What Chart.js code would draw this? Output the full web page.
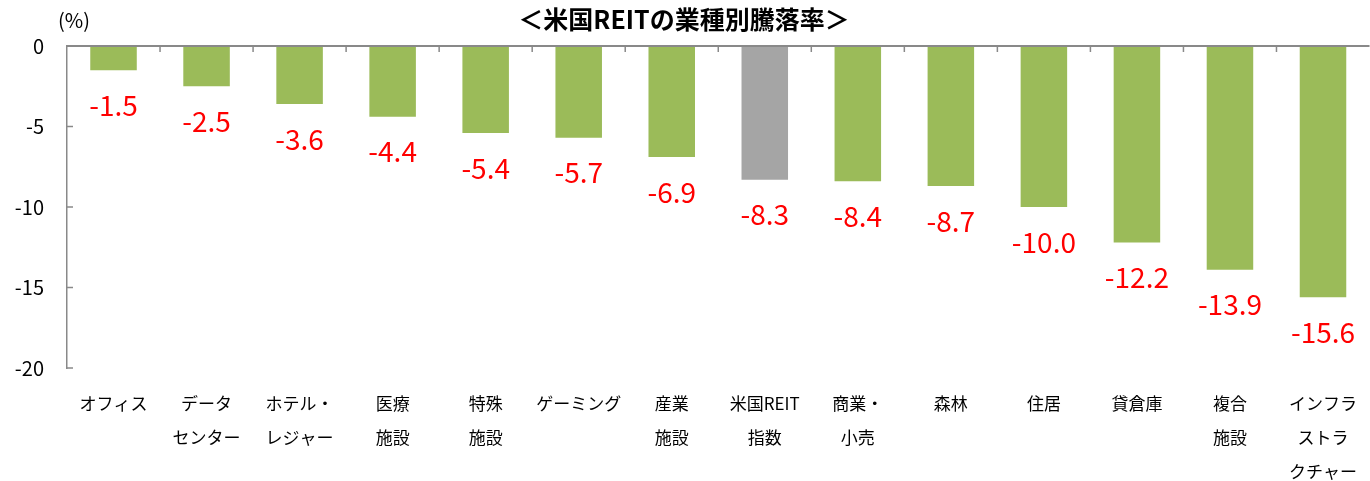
<!DOCTYPE html>
<html>
<head>
<meta charset="utf-8">
<script src="https://cdn.jsdelivr.net/npm/chart.js@4.4.1/dist/chart.umd.min.js"></script>
<style>
  html, body { margin: 0; padding: 0; background: #fff; overflow: hidden; }
  #chart { display: block; }
</style>
</head>
<body>
<canvas id="chart" width="1376" height="481"></canvas>
<script>
// Data
const categories = [
  ['オフィス'], ['データ', 'センター'], ['ホテル・', 'レジャー'], ['医療', '施設'],
  ['特殊', '施設'], ['ゲーミング'], ['産業', '施設'], ['米国REIT', '指数'],
  ['商業・', '小売'], ['森林'], ['住居'], ['貸倉庫'], ['複合', '施設'],
  ['インフラ', 'ストラ', 'クチャー']
];
const returns = [-1.5, -2.5, -3.6, -4.4, -5.4, -5.7, -6.9, -8.3, -8.4, -8.7, -10.0, -12.2, -13.9, -15.6];
const yTicks = [0, -5, -10, -15, -20];
const indexCategory = '米国REIT';

const GREEN = '#9BBB59';
const GRAY = '#A5A5A5';
const AXIS = '#898989';
const FONT = '"Noto Sans CJK JP", "Noto Sans", sans-serif';

const barColors = categories.map(c => c[0] === indexCategory ? GRAY : GREEN);

// Draws title, unit, zero line, inner tick marks and value labels
const decorPlugin = {
  id: 'decor',
  afterDatasetsDraw(chart) {
    const ctx = chart.ctx;
    const x = chart.scales.x;
    const y = chart.scales.y;
    const area = chart.chartArea;
    const zeroY = y.getPixelForValue(0);

    ctx.save();
    // zero line
    ctx.strokeStyle = AXIS;
    ctx.lineWidth = 2;
    ctx.beginPath();
    ctx.moveTo(area.left, zeroY);
    ctx.lineTo(area.right, zeroY);
    ctx.stroke();

    // category boundary ticks (pointing down)
    ctx.lineWidth = 1.5;
    for (let i = 0; i < categories.length - 1; i++) {
      const bx = (x.getPixelForValue(i) + x.getPixelForValue(i + 1)) / 2;
      ctx.beginPath();
      ctx.moveTo(bx, zeroY);
      ctx.lineTo(bx, zeroY + 6);
      ctx.stroke();
    }
    // value ticks (pointing right)
    yTicks.forEach(v => {
      if (v === 0) return;
      const py = y.getPixelForValue(v);
      ctx.beginPath();
      ctx.moveTo(area.left, py);
      ctx.lineTo(area.left + 6, py);
      ctx.stroke();
    });

    // value labels
    ctx.fillStyle = '#FF0000';
    ctx.font = '28px ' + FONT;
    ctx.textAlign = 'center';
    ctx.textBaseline = 'middle';
    const meta = chart.getDatasetMeta(0);
    meta.data.forEach((bar, i) => {
      ctx.fillText(returns[i].toFixed(1), bar.x, bar.y + 35);
    });

    // title and unit
    ctx.fillStyle = '#000';
    ctx.font = 'bold 25px ' + FONT;
    ctx.fillText('＜米国REITの業種別騰落率＞', 684, 19);
    ctx.font = '20px ' + FONT;
    ctx.textAlign = 'left';
    ctx.fillText('(%)', 58, 20);
    ctx.restore();
  }
};

new Chart(document.getElementById('chart').getContext('2d'), {
  type: 'bar',
  data: {
    labels: categories,
    datasets: [{
      data: returns,
      backgroundColor: barColors,
      borderWidth: 0,
      categoryPercentage: 1.0,
      barPercentage: 0.5
    }]
  },
  options: {
    responsive: false,
    animation: false,
    layout: { padding: { top: 46, left: 0, right: 0, bottom: 0 } },
    plugins: {
      legend: { display: false },
      tooltip: { enabled: false },
      title: { display: false }
    },
    scales: {
      x: {
        position: 'bottom',
        grid: { display: false, drawTicks: false },
        border: { display: false },
        ticks: {
          color: '#000',
          font: { family: FONT, size: 17, lineHeight: 2 },
          padding: 19,
          maxRotation: 0,
          autoSkip: false
        },
        afterFit(scale) { scale.height = 113; }
      },
      y: {
        min: -20,
        max: 0,
        grid: { display: true, drawOnChartArea: false, drawTicks: false },
        border: { display: true, color: AXIS, width: 1.5 },
        ticks: {
          stepSize: 5,
          color: '#000',
          font: { family: FONT, size: 20 },
          padding: 23
        },
        afterFit(scale) { scale.width = 67; }
      }
    }
  },
  plugins: [decorPlugin]
});
</script>
</body>
</html>
